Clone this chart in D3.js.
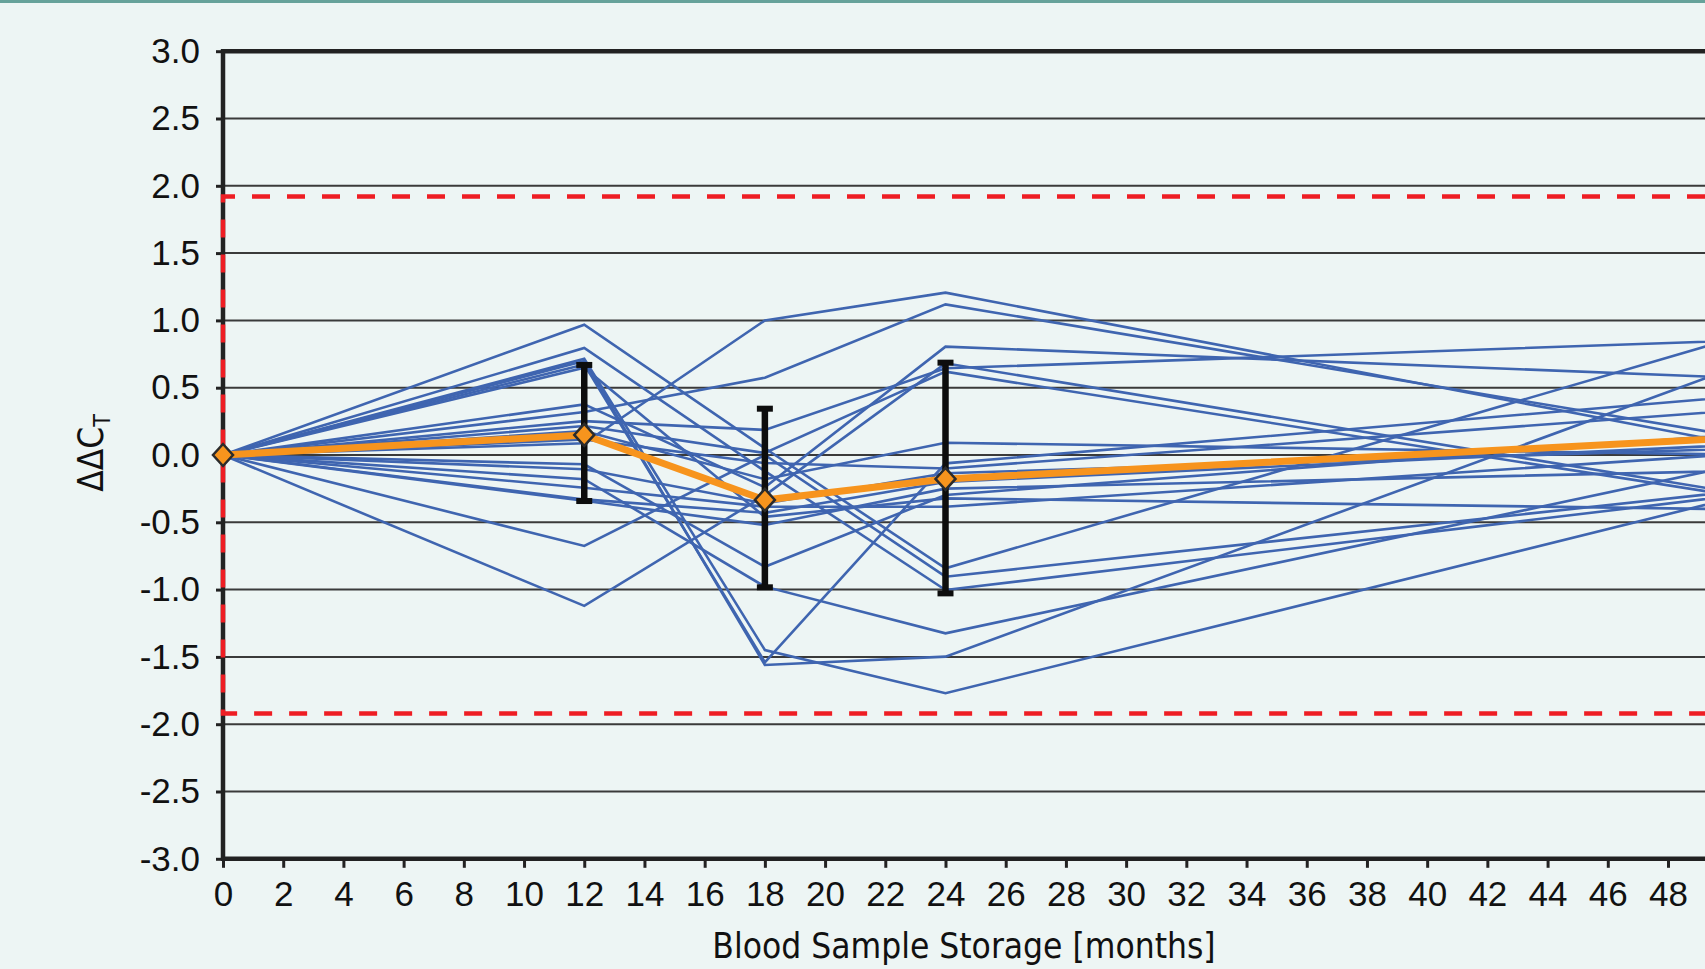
<!DOCTYPE html>
<html>
<head>
<meta charset="utf-8">
<title>Blood sample storage</title>
<script src="https://d3js.org/d3.v7.min.js"></script>
<style>
  html, body { margin: 0; padding: 0; background: #edf5f4; overflow: hidden; }
  svg { display: block; font-family: "DejaVu Sans Condensed", "DejaVu Sans", sans-serif; font-stretch: condensed; }
  .axis text { font-size: 35px; fill: #111; }
  .axis line { stroke: #222; stroke-width: 3; }
  .axis path { display: none; }
</style>
</head>
<body>
<script>

// storage time points (months); the last one lies past the cropped right edge
var months = [0, 12, 18, 24, 60];

// ddCt of each blood sample at the time points above
var samples = [
  [0,  0.968,  0.05,  -0.842,  1.508],
  [0,  0.795, -0.12,  -1.003, -0.04],
  [0,  0.715, -1.449, -1.77,   0.226],
  [0,  0.698, -1.56,  -1.498,  1.451],
  [0,  0.673, -1.54,  -0.062,  0.618],
  [0,  0.649, -0.46,  -0.322, -0.434],
  [0,  0.376, -0.24,   0.805,  0.488],
  [0,  0.319,  0.574,  1.119, -0.225],
  [0,  0.252,  0.186,  0.644,  0.926],
  [0,  0.215,  0.015,  0.619, -0.647],
  [0,  0.178, -0.18,   0.091, -0.03],
  [0,  0.116, -0.06,  -0.1,    0.49],
  [0,  0.087,  1.0,    1.206, -0.335],
  [0, -0.069, -0.83,  -0.297,  0.319],
  [0, -0.106, -0.36,  -0.136,  0.113],
  [0, -0.18,  -0.978, -1.325,  0.387],
  [0, -0.243, -0.384, -0.384,  0.152],
  [0, -0.33,  -0.43,  -0.2,    0.177],
  [0, -0.34,  -0.52,  -0.25,  -0.069],
  [0, -0.676,  0.0,   -0.904, -0.034],
  [0, -1.121, -0.3,    0.681, -0.638]
];

// mean and error bar ends
var meanVals = [0, 0.149, -0.334, -0.178, 0.24];
var errMonths = [12, 18, 24];
var errLow = [-0.342, -0.983, -1.028];
var errHigh = [0.669, 0.344, 0.686];

var limits = [-1.92, 1.92];
var yTicks = d3.range(-3, 3.01, 0.5);
var xTicks = d3.range(0, 49, 2);

var width = 1705, height = 969;

var x = d3.scaleLinear().domain([0, 48]).range([223, 1668]);
var y = d3.scaleLinear().domain([-3, 3]).range([858.8, 51.2]);

var svg = d3.select("body").append("svg")
    .attr("width", width)
    .attr("height", height);

svg.append("rect")
    .attr("width", width).attr("height", height)
    .attr("fill", "#edf5f4");

svg.append("rect")
    .attr("width", width).attr("height", 3)
    .attr("fill", "#66a29a");

// grid lines
svg.append("g").selectAll("line")
    .data(yTicks.filter(function(d) { return Math.abs(d) < 2.9; }))
  .enter().append("line")
    .attr("x1", x(0)).attr("x2", width)
    .attr("y1", function(d) { return y(d); })
    .attr("y2", function(d) { return y(d); })
    .attr("stroke", "#3a3a3a")
    .attr("stroke-width", 2);

var line = d3.line()
    .x(function(d, i) { return x(months[i]); })
    .y(function(d) { return y(d); });

svg.append("g").selectAll("path")
    .data(samples)
  .enter().append("path")
    .attr("d", line)
    .attr("fill", "none")
    .attr("stroke", "#3f65b0")
    .attr("stroke-width", 2.6);

// axes
svg.append("g")
    .attr("class", "axis")
    .attr("transform", "translate(" + x(0) + ",0)")
    .call(d3.axisLeft(y).tickValues(yTicks).tickSize(7).tickSizeOuter(0)
      .tickPadding(16).tickFormat(function(d) { return d.toFixed(1); }));

svg.append("g")
    .attr("class", "axis")
    .attr("transform", "translate(0," + y(-3) + ")")
    .call(d3.axisBottom(x).tickValues(xTicks).tickSize(9).tickSizeOuter(0)
      .tickPadding(13).tickFormat(d3.format("d")));

svg.append("line")
    .attr("x1", x(0)).attr("x2", x(0))
    .attr("y1", y(3) - 2).attr("y2", y(-3) + 2)
    .attr("stroke", "#222").attr("stroke-width", 4.5);

[3, -3].forEach(function(v) {
  svg.append("line")
      .attr("x1", x(0) - 2).attr("x2", width)
      .attr("y1", y(v)).attr("y2", y(v))
      .attr("stroke", "#222").attr("stroke-width", 4.5);
});

// limit box (red dashed)
svg.append("path")
    .attr("d", "M" + width + "," + y(limits[1]) + "H" + x(0) + "V" + y(limits[0]) + "H" + width)
    .attr("fill", "none")
    .attr("stroke", "#ee1d23")
    .attr("stroke-width", 4.5)
    .attr("stroke-dasharray", "18,17");

// mean line
svg.append("path")
    .datum(meanVals)
    .attr("d", line)
    .attr("fill", "none")
    .attr("stroke", "#f7941d")
    .attr("stroke-width", 7)
    .attr("stroke-linejoin", "round");

// error bars
var eb = svg.append("g").selectAll("g")
    .data(errMonths)
  .enter().append("g");

eb.append("line")
    .attr("x1", function(d) { return x(d); })
    .attr("x2", function(d) { return x(d); })
    .attr("y1", function(d, i) { return y(errHigh[i]); })
    .attr("y2", function(d, i) { return y(errLow[i]); })
    .attr("stroke", "#0d0d0d").attr("stroke-width", 6.5);

eb.selectAll(".cap")
    .data(function(d, i) { return [[d, errHigh[i]], [d, errLow[i]]]; })
  .enter().append("line")
    .attr("class", "cap")
    .attr("x1", function(d) { return x(d[0]) - 8; })
    .attr("x2", function(d) { return x(d[0]) + 8; })
    .attr("y1", function(d) { return y(d[1]); })
    .attr("y2", function(d) { return y(d[1]); })
    .attr("stroke", "#0d0d0d").attr("stroke-width", 6);

// diamonds
svg.append("g").selectAll("path")
    .data(meanVals.slice(0, 4))
  .enter().append("path")
    .attr("transform", function(d, i) { return "translate(" + x(months[i]) + "," + y(d) + ")"; })
    .attr("d", "M0,-11L10,0L0,11L-10,0Z")
    .attr("fill", "#f7941d")
    .attr("stroke", "#2b2b2b")
    .attr("stroke-width", 2.5);

// titles
svg.append("text")
    .attr("x", 964).attr("y", 958)
    .attr("text-anchor", "middle")
    .style("font-size", "35px").attr("fill", "#111")
    .text("Blood Sample Storage [months]");

var yl = svg.append("text")
    .attr("transform", "translate(103,453) rotate(-90)")
    .attr("text-anchor", "middle")
    .style("font-size", "35px").attr("fill", "#111");
yl.append("tspan").text("ΔΔC");
yl.append("tspan").attr("dy", 7).style("font-size", "23px").text("T");

</script>
</body>
</html>
